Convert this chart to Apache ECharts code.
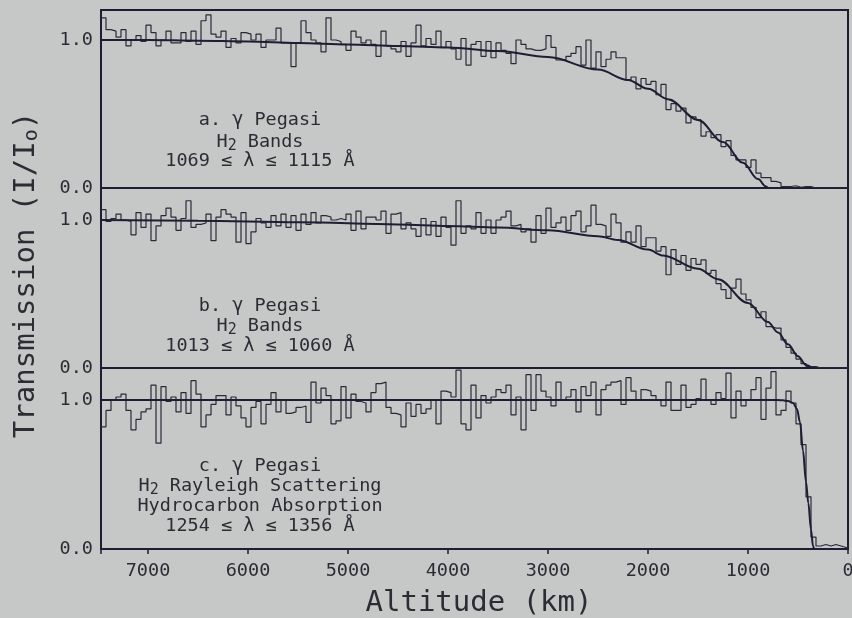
<!DOCTYPE html>
<html>
<head>
<meta charset="utf-8">
<script src="https://cdn.jsdelivr.net/npm/echarts@6/dist/echarts.min.js"></script>
<style>
html,body{margin:0;padding:0;background:#c6c8c7;}
#chart{width:852px;height:618px;}
</style>
</head>
<body>
<div id="chart"></div>
<script>
// ---- data ----
const altStart = 7470;   // km, left edge of first bin
const binWidth = 50;     // km
const xTicks = [7000, 6000, 5000, 4000, 3000, 2000, 1000, 0];

// panel a: gamma Pegasi, H2 bands 1069-1115 A
const histA = [
  1.15,1.07,1.06,1.02,1.07,0.96,1.00,1.03,0.99,1.10,
  1.05,0.96,1.00,1.06,0.98,0.98,1.05,0.99,1.06,0.97,
  1.13,1.17,1.04,1.02,1.06,0.95,1.01,0.98,1.05,1.04,
  1.00,1.04,0.95,1.00,1.00,1.08,0.98,0.98,0.82,0.98,
  1.13,1.05,1.00,0.98,0.92,1.15,1.00,0.99,0.97,0.93,
  1.06,1.02,0.98,1.00,0.97,0.89,1.06,0.96,0.94,0.92,
  0.99,0.89,0.98,1.10,0.96,1.01,0.97,1.06,0.95,0.99,
  0.94,0.87,1.01,0.83,0.97,0.99,0.89,0.99,0.88,0.98,
  0.93,0.91,0.84,1.00,0.97,0.94,0.93,0.93,0.94,1.03,
  0.95,0.865,0.865,0.89,0.91,0.955,0.83,1.00,0.81,0.92,
  0.82,0.87,0.92,0.88,0.88,0.73,0.75,0.67,0.74,0.70,
  0.72,0.63,0.70,0.53,0.57,0.52,0.54,0.44,0.48,0.46,
  0.35,0.38,0.34,0.36,0.28,0.32,0.22,0.19,0.19,0.14,
  0.19,0.10,0.07,0.07,0.045,0.035,0.01,0.01,0.015,0.005,
  0.01,0.01,0,0,0,0,0,0,0,0
];
const modelA = [
  [7470,1.0],[7000,1.0],[6500,0.995],[6000,0.99],[5500,0.98],[5000,0.97],[4500,0.96],
  [4000,0.95],[3500,0.925],[3000,0.885],[2500,0.80],[2200,0.73],[2000,0.67],[1800,0.60],
  [1500,0.46],[1250,0.31],[1050,0.17],[900,0.06],[820,0.01],[800,0.0]
];

// panel b: gamma Pegasi, H2 bands 1013-1060 A
const histB = [
  1.07,0.99,1.01,1.04,1.00,0.99,0.90,1.05,0.95,1.04,
  0.86,0.96,1.03,1.08,1.02,0.93,1.01,1.13,0.95,0.97,
  0.98,1.04,0.86,1.02,1.07,1.04,1.02,0.85,1.05,0.84,
  0.92,1.01,0.98,0.95,1.03,0.96,1.04,0.95,1.03,0.93,
  1.04,0.97,1.05,0.98,1.03,1.02,1.00,1.01,1.00,1.04,
  0.93,1.06,0.94,1.02,1.02,1.00,1.06,0.91,1.04,1.05,
  0.94,0.98,0.94,0.89,1.01,0.90,0.99,0.89,1.02,0.95,
  0.83,1.13,0.91,0.96,0.94,1.05,0.91,1.00,0.91,1.00,
  1.02,1.06,0.96,0.97,0.92,0.94,0.85,1.03,0.91,1.08,
  0.95,0.98,1.02,0.93,1.03,1.06,0.92,0.96,1.10,0.97,
  0.96,0.89,1.04,0.98,0.85,0.92,0.85,0.96,0.82,0.88,
  0.88,0.79,0.82,0.63,0.80,0.70,0.76,0.66,0.74,0.70,
  0.73,0.64,0.66,0.57,0.53,0.47,0.54,0.60,0.50,0.46,
  0.41,0.34,0.38,0.28,0.27,0.27,0.19,0.14,0.10,0.06,
  0.03,0.01,0.01,0,0,0,0,0,0,0
];
const modelB = [
  [7470,1.0],[6500,0.995],[5500,0.985],[4500,0.97],[4000,0.96],[3500,0.95],[3000,0.93],
  [2500,0.89],[2300,0.865],[2000,0.80],[1850,0.76],[1500,0.67],[1300,0.60],[1000,0.44],
  [800,0.31],[700,0.24],[600,0.16],[500,0.08],[420,0.02],[360,0.0]
];

// panel c: gamma Pegasi, H2 Rayleigh scattering + hydrocarbon absorption 1254-1356 A
const histC = [
  0.82,0.93,1.00,1.02,1.04,0.93,0.80,0.87,0.92,0.94,
  1.10,0.71,1.09,0.99,1.02,0.92,1.05,0.91,1.13,1.04,
  0.82,0.90,0.97,1.03,1.03,0.90,1.02,0.96,0.88,0.82,
  0.95,0.99,0.84,0.97,1.05,0.92,1.00,0.91,0.92,0.95,
  0.96,0.85,1.12,0.98,1.08,1.03,0.84,0.86,1.09,0.88,
  1.04,0.99,0.98,0.92,1.05,1.11,1.12,0.95,0.91,0.90,
  0.82,0.98,0.89,0.97,0.91,0.94,1.00,0.84,1.06,1.05,
  1.02,1.20,0.84,0.80,1.10,0.88,1.03,0.98,1.02,1.07,
  1.05,1.10,0.90,1.02,0.80,1.17,0.93,1.17,1.06,1.02,
  0.96,1.12,1.00,1.02,1.07,0.92,1.09,1.03,1.12,0.90,
  1.07,1.10,1.12,1.13,0.97,1.15,1.06,1.00,1.07,1.06,
  1.03,1.00,0.96,1.12,0.93,0.93,1.10,0.95,0.97,1.01,
  1.14,1.00,0.97,1.05,1.01,1.18,0.88,1.06,0.96,1.00,
  1.07,1.15,0.87,1.08,1.19,0.90,0.93,1.06,0.98,0.84,
  0.70,0.35,0.08,0.02,0.03,0.02,0.03,0.02,0.01,0.01
];
const modelC = [
  [7470,1.0],[5000,1.0],[2000,1.0],[700,1.0],[650,0.998],[600,0.993],[550,0.98],[510,0.94],
  [480,0.85],[450,0.66],[420,0.45],[397,0.31],[370,0.13],[350,0.02],[340,0.0]
];

const panelText = [
  ['a. γ Pegasi', 'H{s|2} Bands', '1069 ≤ λ ≤ 1115 Å'],
  ['b. γ Pegasi', 'H{s|2} Bands', '1013 ≤ λ ≤ 1060 Å'],
  ['c. γ Pegasi', 'H{s|2} Rayleigh Scattering', 'Hydrocarbon Absorption', '1254 ≤ λ ≤ 1356 Å']
];
const xTitle = 'Altitude (km)';
const yTitle = 'Transmission (I/I{s|o})';

// ---- helpers ----
function steps(vals) {
  const pts = vals.map((v, i) => [altStart - i * binWidth, v]);
  pts.push([0, vals[vals.length - 1]]);
  return pts;
}

const FONT = 'DejaVu Sans Mono';
const INK = '#2c2c34';
const LINE = '#1d1d33';

const grids = [
  {left: 101, right: 4, top: 10, height: 178, yMax: 178 / 148},
  {left: 101, right: 4, top: 188, height: 180, yMax: 180 / 148},
  {left: 101, right: 4, top: 368, height: 181, yMax: 181 / 149}
];

const chart = echarts.init(document.getElementById('chart'), null, {renderer: 'canvas'});

const option = {
  backgroundColor: '#c6c8c7',
  animation: false,
  grid: grids.map(g => ({
    left: g.left, right: g.right, top: g.top, height: g.height,
    show: true, borderColor: LINE, borderWidth: 2, backgroundColor: 'transparent',
    containLabel: false, outerBoundsMode: 'none'
  })),
  xAxis: grids.map((g, i) => ({
    type: 'value', gridIndex: i, min: 0, max: altStart, inverse: true, interval: 1000,
    axisLine: {show: i === 2, lineStyle: {color: LINE, width: 2}},
    axisTick: {show: i === 2, inside: false, length: 5, lineStyle: {color: LINE, width: 1.5}},
    axisLabel: {
      show: i === 2, margin: 13, color: INK, fontFamily: FONT, fontSize: 18.5,
      hideOverlap: false,
      formatter: v => (xTicks.indexOf(v) >= 0 ? String(v) : '')
    },
    splitLine: {show: false}
  })),
  yAxis: grids.map((g, i) => ({
    type: 'value', gridIndex: i, min: 0, max: g.yMax, interval: 1,
    axisLine: {show: true, lineStyle: {color: LINE, width: 2}},
    axisTick: {show: false},
    axisLabel: {
      margin: 8, color: INK, fontFamily: FONT, fontSize: 18.5,
      formatter: v => (v === 0 ? '0.0' : (v === 1 ? '1.0' : ''))
    },
    splitLine: {show: false}
  })),
  series: [
    [histA, modelA], [histB, modelB], [histC, modelC]
  ].flatMap(([h, m], i) => [
    {
      type: 'line', xAxisIndex: i, yAxisIndex: i, data: steps(h), step: 'end',
      symbol: 'none', lineStyle: {color: '#2a2a38', width: 1.2}, clip: true, z: 3
    },
    {
      type: 'line', xAxisIndex: i, yAxisIndex: i, data: m, smooth: 0.35, smoothMonotone: 'x',
      symbol: 'none', lineStyle: {color: LINE, width: 2}, clip: true, z: 4
    }
  ]),
  graphic: []
};

const rich = {s: {fontFamily: FONT, fontSize: 15, fill: INK, padding: [9, 0, 0, 0]}};
const lineY = [[120, 142, 161], [306, 326, 346], [466, 486, 506, 526]];
panelText.forEach((lines, p) => {
  lines.forEach((t, j) => {
    option.graphic.push({
      type: 'text', x: 260, y: lineY[p][j], z: 10,
      style: {
        text: t, fontFamily: FONT, fontSize: 18.5, fill: INK,
        textAlign: 'center', textVerticalAlign: 'middle', rich: rich
      }
    });
  });
});
option.graphic.push({
  type: 'text', x: 479, y: 603, z: 10,
  style: {text: xTitle, fontFamily: FONT, fontSize: 29, fill: INK, textAlign: 'center', textVerticalAlign: 'middle'}
});
option.graphic.push({
  type: 'text', x: 26, y: 275, rotation: Math.PI / 2, z: 10,
  style: {
    text: yTitle, fontFamily: FONT, fontSize: 29, fill: INK, textAlign: 'center', textVerticalAlign: 'middle',
    rich: {s: {fontFamily: FONT, fontSize: 20, fill: INK, padding: [12, 0, 0, 0]}}
  }
});

chart.setOption(option);
</script>
</body>
</html>
